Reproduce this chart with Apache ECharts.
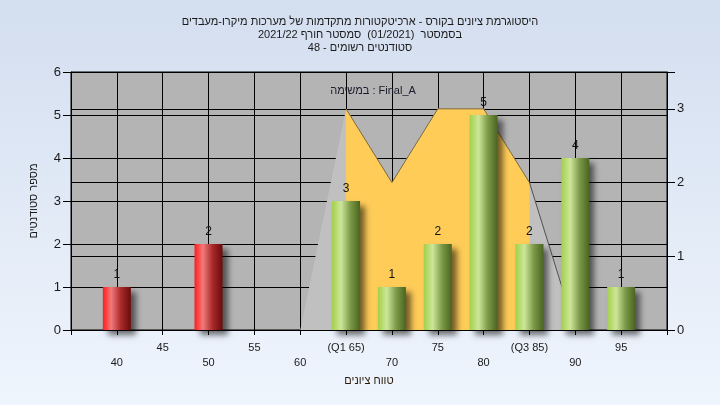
<!DOCTYPE html>
<html>
<head>
<meta charset="utf-8">
<script src="https://cdn.jsdelivr.net/npm/echarts@6/dist/echarts.min.js"></script>
<style>
html,body{margin:0;padding:0;background:#e4ecf7;}
#chart{width:720px;height:405px;direction:rtl;}
</style>
</head>
<body>
<div id="chart"></div>
<script>
// ---- data ----
const titleLines = [
  'היסטוגרמת ציונים בקורס - ארכיטקטורות מתקדמות של מערכות מיקרו-מעבדים',
  'בסמסטר  (01/2021)  סמסטר חורף 2021/22',
  'סטודנטים רשומים - 48'
];
const legendText = 'Final_A : במשימה';
const xAxisName = 'טווח ציונים';
const yAxisName = 'מספר סטודנטים';

const xTickValues = [40, 45, 50, 55, 60, 65, 70, 75, 80, 85, 90, 95];
const xTickLabels = ['40', '45', '50', '55', '60', '(Q1 65)', '70', '75', '80', '(Q3 85)', '90', '95'];

const barX = [40, 50, 65, 70, 75, 80, 85, 90, 95];
const barCounts = [1, 2, 3, 1, 2, 5, 2, 4, 1];
const passMark = 60;

const curveX = [60, 65, 70, 75, 80, 85, 90];
const curveY = [0, 3, 2, 3, 3, 2, 0];
const q1 = 65, q3 = 85;

// ---- build ----
const redGrad = {type:'linear',x:0,y:0,x2:1,y2:0,colorStops:[
  {offset:0,color:'#ff1c1c'},{offset:0.3,color:'#f27a7a'},{offset:0.65,color:'#a82828'},{offset:1,color:'#6a0c0c'}]};
const greenGrad = {type:'linear',x:0,y:0,x2:1,y2:0,colorStops:[
  {offset:0,color:'#a2d04a'},{offset:0.32,color:'#cde69a'},{offset:0.65,color:'#7c9a48'},{offset:1,color:'#4a6420'}]};

const barData = barX.map((x,i)=>({
  value:[x, barCounts[i]],
  itemStyle:{color: x < passMark ? redGrad : greenGrad}
}));
const curveAll = curveX.map((x,i)=>[x, curveY[i]]);
const curveMid = curveAll.filter(p=>p[0]>=q1 && p[0]<=q3);
const curveTail = curveAll.filter(p=>p[0]>=q3);

const chart = echarts.init(document.getElementById('chart'));
const FONT = 'Liberation Sans';
chart.setOption({
  backgroundColor:{type:'linear',x:0,y:0,x2:0,y2:1,colorStops:[
    {offset:0,color:'#d3deef'},{offset:1,color:'#eff5fd'}]},
  animation:false,
  textStyle:{fontFamily:FONT},
  title:[{
    text:titleLines.join('\n'),
    left:'center', top:10,
    textStyle:{fontSize:11,fontWeight:'normal',color:'#1a1a1a',lineHeight:13,fontFamily:FONT}
  },{
    text:legendText,
    left:368, top:80, textAlign:'center',
    textStyle:{fontSize:11,fontWeight:'normal',color:'#1a1a2a',fontFamily:FONT}
  }],
  grid:{left:71,right:53,top:72,bottom:75,show:true,backgroundColor:'#b4b4b4',borderColor:'#000',borderWidth:1},
  xAxis:{
    type:'value', min:35, max:100, interval:5,
    name:xAxisName, nameLocation:'middle', nameGap:45,
    nameTextStyle:{fontSize:11,color:'#2a1a0a',fontFamily:FONT},
    axisLine:{lineStyle:{color:'#000'}},
    axisTick:{length:5,lineStyle:{color:'#000'}},
    splitLine:{show:true,lineStyle:{color:'#000',width:1}},
    axisLabel:{
      fontSize:11,color:'#1a1a1a',margin:10,lineHeight:15,
      formatter:function(v){
        const i = xTickValues.indexOf(v);
        if(i<0) return '';
        return (i%2===1) ? xTickLabels[i] : '\n'+xTickLabels[i];
      }
    }
  },
  yAxis:[{
    type:'value', min:0, max:6, interval:1,
    name:yAxisName, nameLocation:'middle', nameGap:32,
    nameTextStyle:{fontSize:11,color:'#1a1a1a',fontFamily:FONT},
    axisLine:{show:true,lineStyle:{color:'#000'}},
    axisTick:{show:true,length:8,lineStyle:{color:'#000'}},
    splitLine:{show:true,lineStyle:{color:'#000',width:1}},
    axisLabel:{fontSize:13,color:'#1a1a1a',margin:10}
  },{
    type:'value', min:0, max:3.5, interval:1, position:'right',
    axisLine:{show:true,lineStyle:{color:'#000'}},
    axisTick:{show:true,length:8,lineStyle:{color:'#000'}},
    splitLine:{show:true,lineStyle:{color:'#000',width:1}},
    axisLabel:{fontSize:13,color:'#1a1a1a',margin:10,
      formatter:function(v){return (v%1===0)?String(v):'';}}
  }],
  series:[{
    type:'line', yAxisIndex:1, data:curveAll, symbol:'none',
    lineStyle:{width:0,opacity:0},
    areaStyle:{color:'#c0c0c0',opacity:1}, z:1
  },{
    type:'line', yAxisIndex:1, data:curveMid, symbol:'none',
    lineStyle:{width:1,color:'#7a6a40'},
    areaStyle:{color:'#ffcc58',opacity:1}, z:2
  },{
    type:'line', yAxisIndex:1, data:curveTail, symbol:'none',
    lineStyle:{width:1,color:'#505050'}, z:2
  },{
    type:'bar', yAxisIndex:0, data:barData, barWidth:28, z:3,
    itemStyle:{shadowColor:'rgba(0,0,0,0.55)',shadowBlur:6,shadowOffsetX:5,shadowOffsetY:5},
    label:{show:true,position:'top',distance:6,fontSize:12,color:'#111',fontFamily:FONT}
  }]
});
</script>
</body>
</html>
